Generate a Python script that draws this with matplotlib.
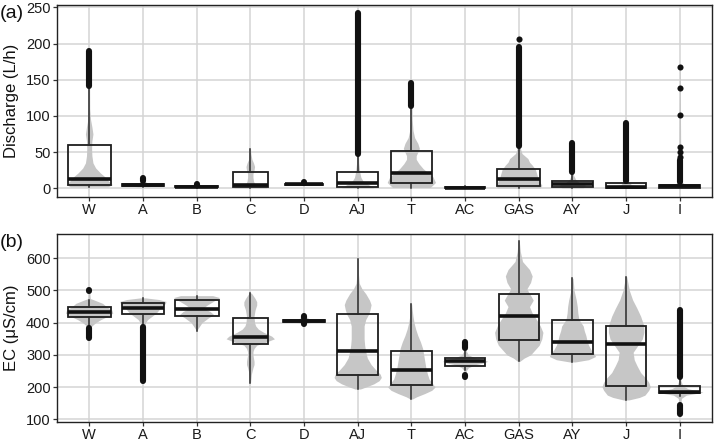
import matplotlib
matplotlib.use("Agg")
import matplotlib.pyplot as plt
import numpy as np

plt.rcParams['font.family'] = ['Liberation Sans', 'DejaVu Sans']

categories = ["W", "A", "B", "C", "D", "AJ", "T", "AC", "GAS", "AY", "J", "I"]

# ---------------- Panel (a): Discharge (L/h) ----------------
dis_q1 = [4.6, 3.0, 1.5, 1.4, 4.8, 2.2, 7.8, 0.3, 3.2, 2.2, 0.4, 0.5]
dis_med = [12.4, 4.5, 2.3, 5.0, 5.5, 6.9, 20.7, 1.0, 12.4, 5.5, 2.0, 2.5]
dis_q3 = [59.4, 6.0, 3.3, 23.0, 6.5, 22.0, 51.5, 2.0, 26.0, 10.5, 6.9, 5.0]
dis_lo = [2.0, 2.0, 0.8, 0.5, 4.0, 0.5, 1.0, 0.0, 0.5, 0.5, 0.0, 0.0]
dis_hi = [138, 8.5, 4.3, 54, 7.0, 46, 112, 3.0, 57, 20, 9.0, 7.0]
dis_widths = [0.8, 0.78, 0.8, 0.66, 0.7, 0.76, 0.77, 0.76, 0.8, 0.76, 0.74, 0.76]
# dense outlier runs: (category index, low, high)
dis_out_runs = [(0, 142, 190), (1, 10.5, 14), (2, 4.8, 5.8), (2, 0, 0.3), (4, 7.5, 8.5),
                (5, 48, 242), (6, 114, 146), (7, 3.5, 3.5), (8, 59, 195), (9, 22, 62),
                (10, 10, 90), (11, 8, 39)]
# single outliers: (category index, value)
dis_out_pts = [(8, 207), (11, 43.7), (11, 50.6), (11, 57.5), (11, 101), (11, 139), (11, 167)]
dis_vy = [
    [2, 5, 10, 16, 21, 28, 35, 45, 55, 65, 75, 85, 95, 110, 190],
    [2, 4, 5, 7, 10, 14],
    [0, 1.5, 2.5, 3.5, 6],
    [0.5, 1.5, 3, 6, 10, 15, 20, 25, 30, 35, 40, 48, 54],
    [4, 5, 5.5, 6, 7, 9],
    [0.5, 3, 6, 10, 15, 22, 35, 60, 242],
    [1, 8, 16, 22, 27, 34, 40, 45, 50, 55, 62, 70, 80, 95, 147],
    [0, 1, 2, 3.5],
    [0.5, 4, 10, 16, 21, 26, 32, 36, 41, 48, 55, 70, 207],
    [0.5, 4, 8, 12, 18, 62],
    [0, 2, 5, 10, 90],
    [0, 2.5, 5, 10, 167],
]
dis_vw = [
    [0.35, 0.43, 0.36, 0.29, 0.21, 0.12, 0.07, 0.05, 0.045, 0.05, 0.07, 0.05, 0.025, 0.01, 0.005],
    [0.1, 0.3, 0.3, 0.1, 0.02, 0.01],
    [0.15, 0.3, 0.3, 0.1, 0.01],
    [0.3, 0.3, 0.12, 0.08, 0.06, 0.05, 0.05, 0.07, 0.08, 0.06, 0.03, 0.01, 0.005],
    [0.1, 0.3, 0.35, 0.3, 0.1, 0.01],
    [0.3, 0.25, 0.18, 0.1, 0.06, 0.04, 0.02, 0.01, 0.005],
    [0.35, 0.45, 0.4, 0.3, 0.22, 0.14, 0.09, 0.09, 0.12, 0.15, 0.12, 0.06, 0.03, 0.015, 0.005],
    [0.2, 0.3, 0.1, 0.01],
    [0.4, 0.43, 0.38, 0.35, 0.33, 0.31, 0.25, 0.2, 0.17, 0.06, 0.03, 0.01, 0.005],
    [0.2, 0.25, 0.12, 0.06, 0.02, 0.005],
    [0.2, 0.3, 0.1, 0.02, 0.005],
    [0.2, 0.3, 0.1, 0.02, 0.005],
]

# ---------------- Panel (b): EC (uS/cm) ----------------
ec_q1 = [418, 428, 420, 334, 403, 237, 208, 267, 346, 303, 203, 181]
ec_med = [434, 445, 443, 356, 406, 313, 252, 280, 420, 339, 334, 186]
ec_q3 = [448, 461, 471, 414, 408, 428, 313, 291, 490, 407, 390, 204]
ec_lo = [390, 390, 375, 214, 400, 194, 163, 252, 280, 278, 160, 171]
ec_hi = [471, 477, 484, 492, 412, 599, 458, 313, 653, 538, 543, 227]
ec_widths = [0.8, 0.78, 0.82, 0.66, 0.77, 0.77, 0.77, 0.76, 0.75, 0.75, 0.74, 0.76]
ec_out_runs = [(0, 497, 503), (0, 352, 383), (1, 218, 386), (4, 396, 399), (4, 414, 420),
               (7, 322, 341), (7, 231, 237), (11, 230, 440), (11, 117, 143)]
ec_out_pts = []
ec_vy = [
    [350, 380, 390, 400, 410, 420, 430, 440, 450, 460, 470, 475, 505],
    [218, 300, 380, 400, 410, 420, 430, 440, 450, 460, 466, 472, 477],
    [375, 385, 400, 415, 425, 435, 445, 455, 470, 478, 484],
    [214, 240, 260, 270, 280, 290, 300, 310, 320, 330, 340, 350, 358, 370, 380, 390, 400, 420, 440, 455, 465, 475, 485, 492],
    [396, 400, 404, 406, 408, 412, 421],
    [194, 200, 210, 220, 230, 240, 255, 270, 290, 310, 330, 350, 370, 390, 410, 425, 440, 456, 470, 490, 505, 522, 560, 599],
    [163, 170, 180, 190, 200, 210, 225, 240, 260, 280, 300, 320, 340, 360, 380, 400, 420, 440, 458],
    [230, 250, 260, 270, 275, 280, 285, 290, 300, 313, 325, 342],
    [280, 290, 300, 315, 330, 350, 370, 390, 410, 430, 450, 470, 485, 505, 525, 545, 565, 590, 620, 653],
    [278, 285, 295, 305, 315, 330, 345, 360, 375, 390, 410, 430, 450, 471, 500, 538],
    [160, 168, 175, 190, 201, 215, 227, 245, 267, 285, 308, 325, 349, 370, 390, 420, 445, 471, 500, 543],
    [117, 140, 165, 175, 180, 184, 188, 195, 205, 220, 250, 300, 400, 440],
]
ec_vw = [
    [0.005, 0.02, 0.05, 0.12, 0.22, 0.35, 0.44, 0.42, 0.32, 0.25, 0.1, 0.02, 0.005],
    [0.005, 0.01, 0.02, 0.05, 0.09, 0.17, 0.25, 0.3, 0.36, 0.42, 0.43, 0.3, 0.05],
    [0.0, 0.04, 0.1, 0.22, 0.32, 0.25, 0.12, 0.2, 0.35, 0.43, 0.3],
    [0.005, 0.02, 0.05, 0.07, 0.07, 0.06, 0.05, 0.05, 0.07, 0.12, 0.3, 0.45, 0.4, 0.25, 0.15, 0.1, 0.08, 0.07, 0.09, 0.12, 0.12, 0.09, 0.05, 0.02],
    [0.01, 0.1, 0.35, 0.4, 0.35, 0.1, 0.01],
    [0.05, 0.15, 0.3, 0.4, 0.44, 0.42, 0.33, 0.25, 0.18, 0.15, 0.13, 0.12, 0.12, 0.12, 0.15, 0.2, 0.23, 0.25, 0.22, 0.15, 0.08, 0.03, 0.01, 0.005],
    [0.02, 0.1, 0.25, 0.38, 0.44, 0.4, 0.33, 0.3, 0.27, 0.25, 0.23, 0.21, 0.17, 0.12, 0.08, 0.05, 0.03, 0.015, 0.005],
    [0.005, 0.02, 0.06, 0.2, 0.35, 0.42, 0.35, 0.2, 0.06, 0.02, 0.01, 0.005],
    [0.02, 0.1, 0.22, 0.3, 0.38, 0.43, 0.45, 0.4, 0.33, 0.25, 0.2, 0.27, 0.22, 0.15, 0.22, 0.25, 0.2, 0.07, 0.03, 0.01],
    [0.05, 0.3, 0.43, 0.4, 0.35, 0.3, 0.27, 0.25, 0.22, 0.2, 0.12, 0.1, 0.09, 0.07, 0.03, 0.01],
    [0.05, 0.25, 0.35, 0.42, 0.45, 0.42, 0.37, 0.27, 0.2, 0.15, 0.13, 0.2, 0.3, 0.33, 0.33, 0.27, 0.2, 0.12, 0.06, 0.01],
    [0.005, 0.01, 0.03, 0.12, 0.3, 0.43, 0.35, 0.15, 0.05, 0.02, 0.01, 0.005, 0.005, 0.005],
]

GRID = '#d4d4d4'
VIOLIN = '#c6c6c6'
DOT_LW = 4.4


def draw_panel(ax, q1, med, q3, lo, hi, widths, runs, pts, vy, vw, ylim, yticks, ylabel, tag):
    pos = np.arange(1, len(categories) + 1)
    ax.set_xlim(0.4, len(categories) + 0.6)
    ax.set_ylim(*ylim)
    ax.set_yticks(yticks)
    ax.set_xticks(pos)
    ax.set_xticklabels(categories)
    ax.grid(True, color=GRID, lw=1.1, zorder=0)
    ax.set_axisbelow(True)
    for i, p in enumerate(pos):
        ys = np.asarray(vy[i], float)
        ws = np.asarray(vw[i], float)
        ax.fill_betweenx(ys, p - ws, p + ws, color=VIOLIN, lw=0, zorder=2)
    stats = []
    for i in range(len(categories)):
        stats.append(dict(med=med[i], q1=q1[i], q3=q3[i], whislo=lo[i], whishi=hi[i], fliers=[]))
    ax.bxp(stats, positions=pos, widths=widths, showfliers=False, showcaps=False,
           patch_artist=True, manage_ticks=False,
           boxprops=dict(facecolor='none', edgecolor='#1e1e1e', lw=1.3),
           whiskerprops=dict(color='#2a2a2a', lw=1.1),
           medianprops=dict(color='#111111', lw=2.6, solid_capstyle='butt'),
           zorder=3)
    for (i, a, b) in runs:
        ax.plot([pos[i], pos[i]], [a, b], color='#111111', lw=DOT_LW,
                solid_capstyle='round', zorder=4)
    for (i, v) in pts:
        ax.plot([pos[i]], [v], 'o', color='#111111', ms=DOT_LW, mew=0, zorder=4)
    for s in ax.spines.values():
        s.set_color('#222222')
        s.set_linewidth(1.0)
    ax.tick_params(axis='both', colors='#333333', labelcolor='#1a1a1a', labelsize=10.5,
                   length=3, width=0.9, pad=1.5)
    ax.set_ylabel(ylabel, fontsize=12, color='#111111')
    ax.yaxis.set_label_coords(-0.058, 0.5)
    ax.text(-0.088, 1.0, tag, transform=ax.transAxes, fontsize=14, ha='left', va='top',
            color='#111111')


fig = plt.figure(figsize=(7.14, 4.43), dpi=100)
ax1 = fig.add_axes([0.0798, 0.5553, 0.9175, 0.4334])
ax2 = fig.add_axes([0.0798, 0.0475, 0.9175, 0.4243])

draw_panel(ax1, dis_q1, dis_med, dis_q3, dis_lo, dis_hi, dis_widths, dis_out_runs, dis_out_pts,
           dis_vy, dis_vw, (-12.1, 253.3), [0, 50, 100, 150, 200, 250], 'Discharge (L/h)', '(a)')
draw_panel(ax2, ec_q1, ec_med, ec_q3, ec_lo, ec_hi, ec_widths, ec_out_runs, ec_out_pts,
           ec_vy, ec_vw, (91.7, 675.5), [100, 200, 300, 400, 500, 600], 'EC (\u03bcS/cm)', '(b)')

fig.savefig('out.png', dpi=100)
